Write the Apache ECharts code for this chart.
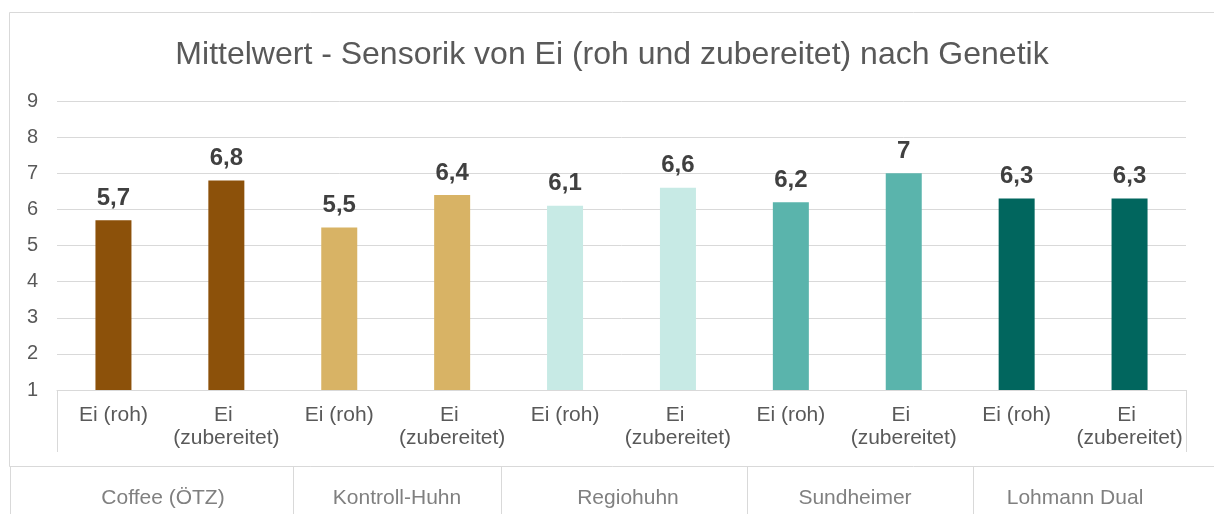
<!DOCTYPE html>
<html>
<head>
<meta charset="utf-8">
<title>Mittelwert - Sensorik von Ei</title>
<script src="https://cdn.jsdelivr.net/npm/echarts@6/dist/echarts.min.js"></script>
<style>
  html, body { margin: 0; padding: 0; background: #ffffff; }
  #chart { width: 1214px; height: 514px; }
</style>
</head>
<body>
<div id="chart"></div>
<script>
// Genetik groups and the two preparations measured for each
const groups = ['Coffee (ÖTZ)', 'Kontroll-Huhn', 'Regiohuhn', 'Sundheimer', 'Lohmann Dual'];
const preparations = ['Ei (roh)', 'Ei (zubereitet)'];

// Mean sensory scores per group
const rohValues = [5.7, 5.5, 6.1, 6.2, 6.3];
const zubereitetValues = [6.8, 6.4, 6.6, 7, 6.3];

// Value axis range
const yMin = 1;
const yMax = 9;
const yStep = 1;

// Bar colour per group
const groupColors = ['#8c510a', '#d8b365', '#c7eae5', '#5ab4ac', '#01665e'];

// Layout
const FONT = 'Liberation Sans, Arial, sans-serif';
const W = 1214, H = 514;
const gridLeft = 57, gridRight = 28, gridTop = 101, gridBottom = 124;
const axisY = H - gridBottom;
const frameColor = '#d9d9d9';
const groupCellEdges = [10, 293, 501, 747, 973];
const groupLabelCenters = [163, 397, 628, 855, 1075];

const categories = [];
const barData = [];
groups.forEach((g, i) => {
  [rohValues[i], zubereitetValues[i]].forEach((v, j) => {
    categories.push(preparations[j]);
    barData.push({ value: v, itemStyle: { color: groupColors[i] } });
  });
});

const graphics = [
  // chart area frame
  { type: 'rect', silent: true, z: -1,
    shape: { x: 9.5, y: 12.5, width: W, height: 454 },
    style: { fill: 'none', stroke: frameColor, lineWidth: 1 } },
  // category axis box sides
  { type: 'line', silent: true,
    shape: { x1: gridLeft + 0.5, y1: axisY, x2: gridLeft + 0.5, y2: 452 },
    style: { stroke: frameColor, lineWidth: 1 } },
  { type: 'line', silent: true,
    shape: { x1: W - gridRight + 0.5, y1: axisY, x2: W - gridRight + 0.5, y2: 452 },
    style: { stroke: frameColor, lineWidth: 1 } }
];
groupCellEdges.forEach(x => {
  graphics.push({ type: 'line', silent: true,
    shape: { x1: x + 0.5, y1: 467, x2: x + 0.5, y2: H },
    style: { stroke: frameColor, lineWidth: 1 } });
});
groups.forEach((g, i) => {
  graphics.push({ type: 'text', silent: true,
    x: groupLabelCenters[i], y: 498,
    style: { text: g, fill: '#808080', font: '21px ' + FONT,
             textAlign: 'center', textVerticalAlign: 'middle' } });
});

const chart = echarts.init(document.getElementById('chart'), null, { renderer: 'canvas' });
chart.setOption({
  animation: false,
  backgroundColor: '#ffffff',
  title: {
    text: 'Mittelwert - Sensorik von Ei (roh und zubereitet) nach Genetik',
    left: 607,
    textAlign: 'center',
    top: 34,
    textStyle: { color: '#595959', fontSize: 32, fontWeight: 'normal',
                 fontFamily: FONT, lineHeight: 33 }
  },
  grid: { left: gridLeft, right: gridRight, top: gridTop, bottom: gridBottom, containLabel: false },
  xAxis: {
    type: 'category',
    data: categories,
    axisLine: { show: true, lineStyle: { color: frameColor, width: 1 } },
    axisTick: { show: false },
    axisLabel: {
      interval: 0,
      margin: 14,
      color: '#595959',
      fontSize: 21,
      fontFamily: FONT,
      lineHeight: 23,
      width: 108,
      overflow: 'break'
    }
  },
  yAxis: {
    type: 'value',
    min: yMin,
    max: yMax,
    interval: yStep,
    axisLine: { show: false },
    axisTick: { show: false },
    splitLine: { lineStyle: { color: frameColor, width: 1 } },
    axisLabel: { color: '#595959', fontSize: 20, fontFamily: FONT, margin: 19 }
  },
  series: [{
    type: 'bar',
    data: barData,
    barWidth: 36,
    label: {
      show: true,
      position: 'top',
      distance: 10,
      color: '#404040',
      fontSize: 24,
      fontWeight: 'bold',
      fontFamily: FONT,
      formatter: p => String(p.value).replace('.', ',')
    }
  }],
  graphic: graphics
});
</script>
</body>
</html>
